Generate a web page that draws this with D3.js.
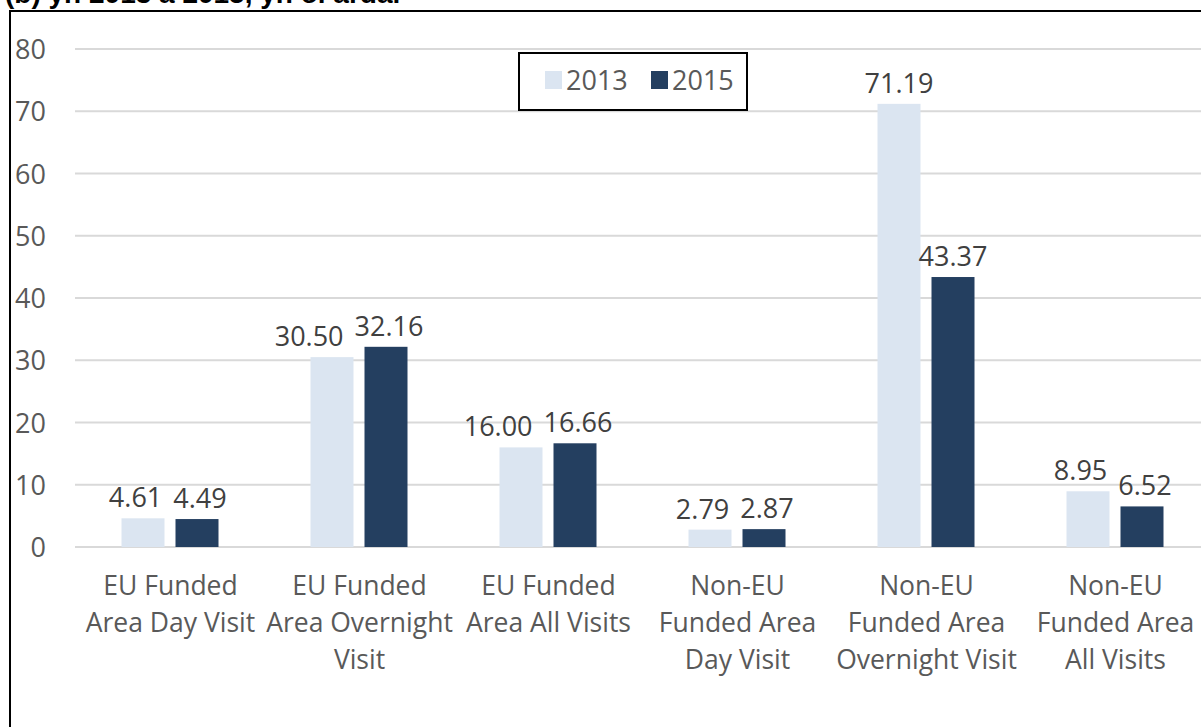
<!DOCTYPE html>
<html>
<head>
<meta charset="utf-8">
<script src="https://cdn.jsdelivr.net/npm/d3@7"></script>
<style>
	html, body { margin: 0; padding: 0; background: #fff; }
	svg text { font-family: "Open Sans", sans-serif; }
</style>
</head>
<body>
<svg id="chart" width="1201" height="727"></svg>
<script>
// chart values
const categories = [
	"EU Funded\nArea Day Visit",
	"EU Funded\nArea Overnight\nVisit",
	"EU Funded\nArea All Visits",
	"Non-EU\nFunded Area\nDay Visit",
	"Non-EU\nFunded Area\nOvernight Visit",
	"Non-EU\nFunded Area\nAll Visits"
];
const seriesNames = ["2013", "2015"];
const values2013 = [4.61, 30.50, 16.00, 2.79, 71.19, 8.95];
const values2015 = [4.49, 32.16, 16.66, 2.87, 43.37, 6.52];
const yTicks = [0, 10, 20, 30, 40, 50, 60, 70, 80];
const colors = ["#dbe5f1", "#243f60"];

const svg = d3.select("#chart");

// title, cut off at the top like in the original
svg.append("text")
	.attr("x", 5)
	.attr("y", 3)
	.style("font-family", "'Liberation Sans', Arial, sans-serif")
	.style("font-weight", "bold")
	.style("font-size", "28px")
	.attr("fill", "#000")
	.text("(b) yn 2013 a 2015, yn ôl ardal");

// frame
svg.append("rect")
	.attr("x", 10)
	.attr("y", 11)
	.attr("width", 1200)
	.attr("height", 730)
	.attr("fill", "none")
	.attr("stroke", "#000")
	.attr("stroke-width", 2);

const x = d3.scaleBand()
	.domain(d3.range(categories.length))
	.range([76, 1210])
	.paddingInner(0)
	.paddingOuter(0);

const y = d3.scaleLinear()
	.domain([0, 80])
	.range([547, 49]);

// gridlines
svg.append("g")
	.selectAll("line")
	.data(yTicks)
	.enter()
	.append("line")
	.attr("x1", 75)
	.attr("x2", 1201)
	.attr("y1", d => y(d))
	.attr("y2", d => y(d))
	.attr("stroke", "#d9d9d9")
	.attr("stroke-width", 2);

// y axis labels
const yAxis = svg.append("g")
	.attr("transform", "translate(52,0)")
	.call(d3.axisLeft(y).tickValues(yTicks).tickSize(0).tickPadding(6));
yAxis.select(".domain").remove();
yAxis.selectAll("text")
	.style("font-size", "27px")
	.attr("fill", "#595959")
	.attr("dy", "0.36em");

// bars
const barW = 43;
const offsets = [-49, 5];
const series = [values2013, values2015];
const labelGroups = [];

series.forEach((vals, s) => {
	const g = svg.append("g");
	g.selectAll("rect")
		.data(vals)
		.enter()
		.append("rect")
		.attr("x", (d, i) => x(i) + x.bandwidth() / 2 + offsets[s])
		.attr("y", d => y(d))
		.attr("width", barW)
		.attr("height", d => y(0) - y(d))
		.attr("fill", colors[s]);

	const labels = g.selectAll("text")
		.data(vals)
		.enter()
		.append("text")
		.attr("x", (d, i) => x(i) + x.bandwidth() / 2 + offsets[s] + barW / 2)
		.attr("y", d => y(d) - 11)
		.attr("text-anchor", "middle")
		.style("font-size", "27px")
		.attr("fill", "#404040")
		.text(d => d.toFixed(2));
	labelGroups.push(labels.nodes());
});

// push data labels apart when they collide (like Excel does)
const gap = 11;
categories.forEach((c, i) => {
	const a = labelGroups[0][i];
	const b = labelGroups[1][i];
	const ba = a.getBBox();
	const bb = b.getBBox();
	const vOverlap = ba.y < bb.y + bb.height && bb.y < ba.y + ba.height;
	const overlap = ba.x + ba.width + gap - bb.x;
	if (vOverlap && overlap > 0) {
		const push = Math.min(3, overlap);
		d3.select(b).attr("x", +b.getAttribute("x") + push);
		d3.select(a).attr("x", +a.getAttribute("x") - (overlap - push));
	}
});

// category labels
const xLabels = svg.append("g")
	.selectAll("text")
	.data(categories)
	.enter()
	.append("text")
	.attr("text-anchor", "middle")
	.attr("transform", (d, i) => `translate(${x(i) + x.bandwidth() / 2},595)`)
	.style("font-size", "26.5px")
	.attr("fill", "#595959");

xLabels.selectAll("tspan")
	.data(d => d.split("\n"))
	.enter()
	.append("tspan")
	.attr("x", 0)
	.attr("y", (d, i) => i * 37)
	.text(d => d);

// legend
const legend = svg.append("g").attr("transform", "translate(519,53)");
legend.append("rect")
	.attr("width", 228)
	.attr("height", 57)
	.attr("fill", "#fff")
	.attr("stroke", "#000")
	.attr("stroke-width", 2);

const legendX = [26, 132];
seriesNames.forEach((name, s) => {
	legend.append("rect")
		.attr("x", legendX[s])
		.attr("y", 18)
		.attr("width", 17)
		.attr("height", 18)
		.attr("fill", colors[s]);
	legend.append("text")
		.attr("x", legendX[s] + 21)
		.attr("y", 37)
		.style("font-size", "27px")
		.attr("fill", "#595959")
		.text(name);
});
</script>
</body>
</html>
